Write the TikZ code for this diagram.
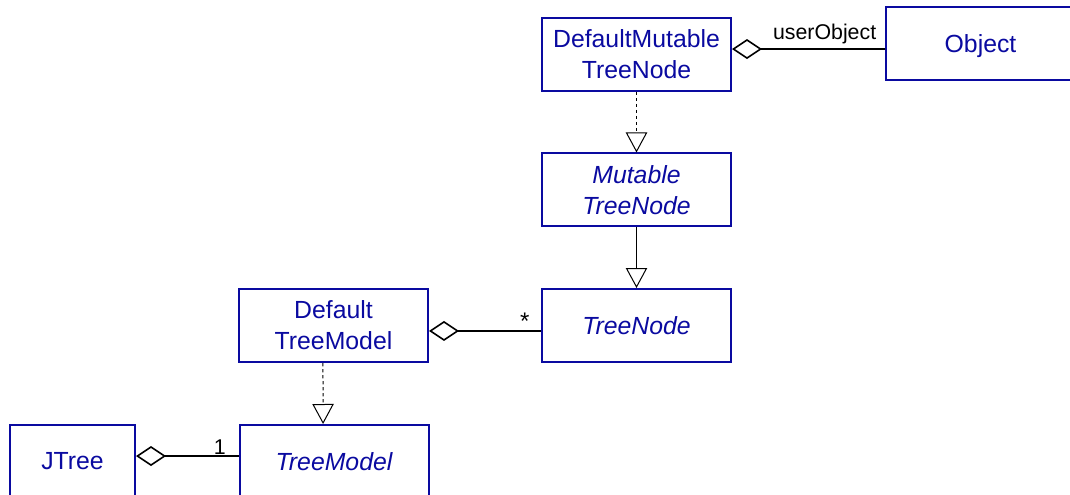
\documentclass[tikz,border=0pt]{standalone}
\usepackage{fontspec}
\setmainfont{Liberation Sans}
\usetikzlibrary{arrows.meta}
\definecolor{umlblue}{RGB}{10,10,160}

\begin{document}
\begin{tikzpicture}[x=0.75pt,y=-0.75pt,
    cls/.style={draw=umlblue, line width=1.5pt, text=umlblue, align=center,
      minimum width=141.75pt, minimum height=54.75pt, inner sep=0pt,
      font=\fontsize{18.6}{23.25}\selectfont},
    abs/.style={cls, font=\fontsize{18.6}{23.25}\selectfont\itshape},
    gen/.style={-{Triangle[open,length=15pt,width=16pt]}, line width=0.75pt},
    real/.style={gen, dash pattern=on 2.5pt off 2pt},
    aggr/.style={{Diamond[open,length=22.5pt,width=15pt]}-, line width=1.2pt},
    lbl/.style={font=\fontsize{16}{19}\selectfont, inner sep=0pt, anchor=base east}]

     \path[clip] (0,0) rectangle (1070,495);

     % classes
     \node[cls] (dmtn)   at (636.5,54.5) {DefaultMutable\\TreeNode};
     \node[cls, text depth=0pt] (object) at (980.5,43.5) {Object};
     \node[abs] (mtn)    at (636.5,190)  {Mutable\\TreeNode};
     \node[abs] (tnode)  at (636.5,325.5) {TreeNode};
     \node[cls] (dtm)    at (333.5,325.5) {Default\\TreeModel};
     \node[abs] (tmodel) at (334,461.5)  {TreeModel};
     \node[cls, minimum width=93.75pt] (jtree) at (72.5,461.5) {JTree};

     % inheritance
     \draw [real] (dmtn) -- (mtn);
     \draw [gen] (mtn) -- (tnode);
     \draw [real] ([xshift=-7.9pt]dtm.south) -- ([xshift=-8.2pt]tmodel.north);

     % aggregation
     \draw [aggr] ([yshift=4.1pt]dmtn.east) -- ([yshift=-4.1pt]object.west)
          node[lbl, pos=1, xshift=-6pt, yshift=6.75pt] {userObject};
     \draw [aggr] ([yshift=-4.1pt]dtm.east) -- ([yshift=-4.1pt]tnode.west)
          node[lbl, pos=1, xshift=-8pt, yshift=1pt, font=\fontsize{18}{19}\selectfont] {*};
     \draw [aggr] ([yshift=4.1pt]jtree.east) -- ([yshift=4.1pt]tmodel.west)
          node[lbl, pos=1, xshift=-9pt, yshift=1.5pt] {1};

  \end{tikzpicture}
\end{document}
